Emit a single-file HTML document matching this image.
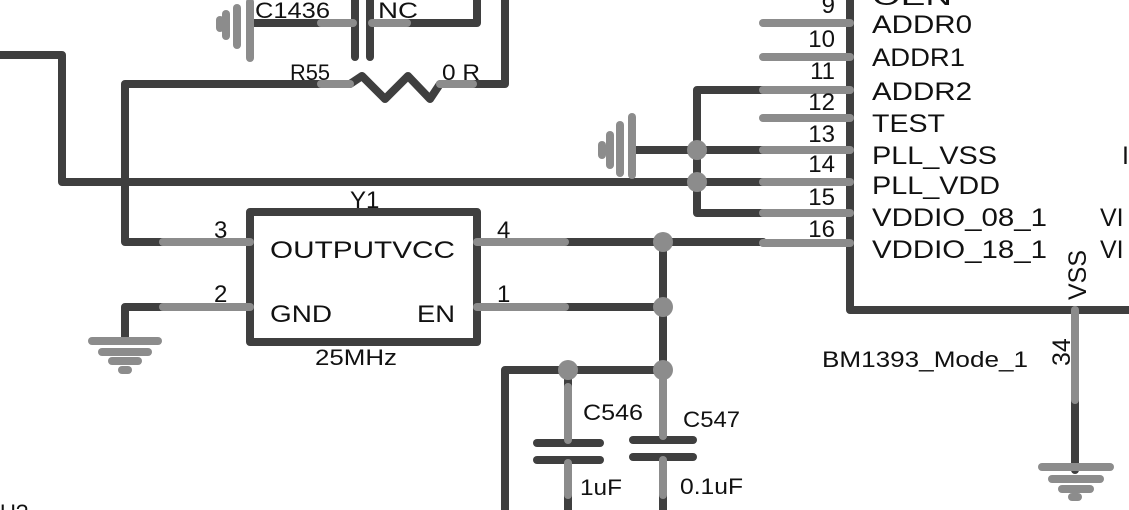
<!DOCTYPE html>
<html><head><style>
html,body{margin:0;padding:0;background:#fff;width:1129px;height:510px;overflow:hidden}
svg text{font-family:"Liberation Sans",sans-serif;fill:#111}
</style></head><body>
<svg width="1129" height="510" viewBox="0 0 1129 510" xmlns="http://www.w3.org/2000/svg">
<g fill="none" stroke-linecap="round" stroke-linejoin="round">
<g stroke="#3f3f3f" stroke-width="8">
<polyline points="0,55 62,55 62,182 763,182"/>
<polyline points="321,84 125,84 125,242 163,242"/>
<polyline points="473,84 505,84 505,0"/>
<polyline points="250,23 321,23"/>
<polyline points="407,23 477,23 477,0"/>
<line x1="355" y1="0" x2="355" y2="57"/>
<line x1="370" y1="0" x2="370" y2="57"/>
<polyline points="163,307 125,307 125,340"/>
<line x1="565" y1="242" x2="763" y2="242"/>
<line x1="565" y1="307" x2="663" y2="307"/>
<line x1="663" y1="242" x2="663" y2="370"/>
<polyline points="505,510 505,370 663,370"/>
<line x1="568" y1="370" x2="568" y2="387"/>
<line x1="568" y1="495" x2="568" y2="510"/>
<line x1="663" y1="495" x2="663" y2="510"/>
<polyline points="763,90 697,90 697,213 763,213"/>
<line x1="632" y1="150" x2="763" y2="150"/>
<line x1="1075" y1="400" x2="1075" y2="470"/>
<polyline points="850,0 850,310 1129,310"/>
<rect x="250" y="212" width="227" height="130"/>
<line x1="537" y1="443" x2="600" y2="443"/>
<line x1="537" y1="460" x2="600" y2="460"/>
<line x1="633" y1="440" x2="693" y2="440"/>
<line x1="633" y1="457" x2="693" y2="457"/>
<polyline points="350,84 362,76 385,99 408,76 430,99 440,84"/>
</g>
<g stroke="#8c8c8c" stroke-width="8">
<line x1="321" y1="84" x2="350" y2="84"/>
<line x1="440" y1="84" x2="473" y2="84"/>
<line x1="321" y1="23" x2="353" y2="23"/>
<line x1="372" y1="23" x2="407" y2="23"/>
<line x1="163" y1="242" x2="250" y2="242"/>
<line x1="163" y1="307" x2="250" y2="307"/>
<line x1="477" y1="242" x2="565" y2="242"/>
<line x1="477" y1="307" x2="565" y2="307"/>
<line x1="763" y1="23" x2="850" y2="23"/>
<line x1="763" y1="57" x2="850" y2="57"/>
<line x1="763" y1="90" x2="850" y2="90"/>
<line x1="763" y1="118" x2="850" y2="118"/>
<line x1="763" y1="150" x2="850" y2="150"/>
<line x1="763" y1="182" x2="850" y2="182"/>
<line x1="763" y1="213" x2="850" y2="213"/>
<line x1="763" y1="243" x2="850" y2="243"/>
<line x1="568" y1="387" x2="568" y2="440"/>
<line x1="568" y1="463" x2="568" y2="495"/>
<line x1="663" y1="370" x2="663" y2="436"/>
<line x1="663" y1="460" x2="663" y2="495"/>
<line x1="1075" y1="310" x2="1075" y2="400"/>
<line x1="250" y1="2" x2="250" y2="58"/>
<line x1="237" y1="8" x2="237" y2="45"/>
<line x1="226" y1="14" x2="226" y2="36"/>
<line x1="220" y1="20" x2="220" y2="28"/>
<line x1="632" y1="117" x2="632" y2="175"/>
<line x1="620" y1="125" x2="620" y2="173"/>
<line x1="610" y1="135" x2="610" y2="165"/>
<line x1="602" y1="145" x2="602" y2="155"/>
<line x1="92" y1="341" x2="158" y2="341"/>
<line x1="102" y1="352" x2="148" y2="352"/>
<line x1="112" y1="361" x2="138" y2="361"/>
<line x1="122" y1="370" x2="128" y2="370"/>
<line x1="1042" y1="467" x2="1110" y2="467"/>
<line x1="1052" y1="479" x2="1100" y2="479"/>
<line x1="1062" y1="489" x2="1090" y2="489"/>
<line x1="1072" y1="497" x2="1078" y2="497"/>
</g>
</g>
<g fill="#8c8c8c">
<circle cx="697" cy="150" r="10"/><circle cx="697" cy="182" r="10"/>
<circle cx="663" cy="242" r="10"/><circle cx="663" cy="307" r="10"/>
<circle cx="663" cy="370" r="10"/><circle cx="568" cy="370" r="10"/>
</g>
<g font-size="22" lengthAdjust="spacingAndGlyphs">
<text x="255" y="18" textLength="75" lengthAdjust="spacingAndGlyphs">C1436</text>
<text x="378" y="18" textLength="40" lengthAdjust="spacingAndGlyphs">NC</text>
<text x="290" y="80" textLength="40" lengthAdjust="spacingAndGlyphs">R55</text>
<text x="442" y="80" textLength="38" lengthAdjust="spacingAndGlyphs">0 R</text>
<text x="350" y="208" font-size="24">Y1</text>
<text x="214" y="238" font-size="24">3</text><text x="497" y="238" font-size="24">4</text>
<text x="214" y="302" font-size="24">2</text><text x="497" y="302" font-size="24">1</text>
<text x="270" y="258" font-size="24" textLength="185" lengthAdjust="spacingAndGlyphs">OUTPUTVCC</text>
<text x="270" y="322" font-size="24" textLength="62" lengthAdjust="spacingAndGlyphs">GND</text>
<text x="417" y="322" font-size="24" textLength="38" lengthAdjust="spacingAndGlyphs">EN</text>
<text x="315" y="365" textLength="82" lengthAdjust="spacingAndGlyphs">25MHz</text>
<text x="583" y="420" textLength="60" lengthAdjust="spacingAndGlyphs">C546</text>
<text x="683" y="427" textLength="57" lengthAdjust="spacingAndGlyphs">C547</text>
<text x="580" y="495" textLength="42" lengthAdjust="spacingAndGlyphs">1uF</text>
<text x="680" y="494" textLength="63" lengthAdjust="spacingAndGlyphs">0.1uF</text>
<text x="822" y="367" textLength="206" lengthAdjust="spacingAndGlyphs">BM1393_Mode_1</text>
<text x="0" y="520">U?</text>
<g text-anchor="end" font-size="24"><text x="835" y="13">9</text><text x="835" y="47">10</text><text x="835" y="79">11</text><text x="835" y="110">12</text><text x="835" y="142">13</text><text x="835" y="172">14</text><text x="835" y="205">15</text><text x="835" y="237">16</text></g>
<g font-size="25">
<text x="872" y="5" textLength="80" lengthAdjust="spacingAndGlyphs">OEN</text>
<text x="872" y="33" textLength="100" lengthAdjust="spacingAndGlyphs">ADDR0</text>
<text x="872" y="66" textLength="93" lengthAdjust="spacingAndGlyphs">ADDR1</text>
<text x="872" y="100" textLength="100" lengthAdjust="spacingAndGlyphs">ADDR2</text>
<text x="872" y="132" textLength="73" lengthAdjust="spacingAndGlyphs">TEST</text>
<text x="872" y="164" textLength="125" lengthAdjust="spacingAndGlyphs">PLL_VSS</text>
<text x="872" y="194" textLength="128" lengthAdjust="spacingAndGlyphs">PLL_VDD</text>
<text x="872" y="226" textLength="175" lengthAdjust="spacingAndGlyphs">VDDIO_08_1</text>
<text x="872" y="258" textLength="175" lengthAdjust="spacingAndGlyphs">VDDIO_18_1</text>
<text x="1100" y="226">VI</text><text x="1100" y="258">VI</text><text x="1122" y="164">I</text>
<text transform="translate(1086,300) rotate(-90)">VSS</text>
<text transform="translate(1070,366) rotate(-90)">34</text>
</g>
</g>
</svg>
</body></html>
